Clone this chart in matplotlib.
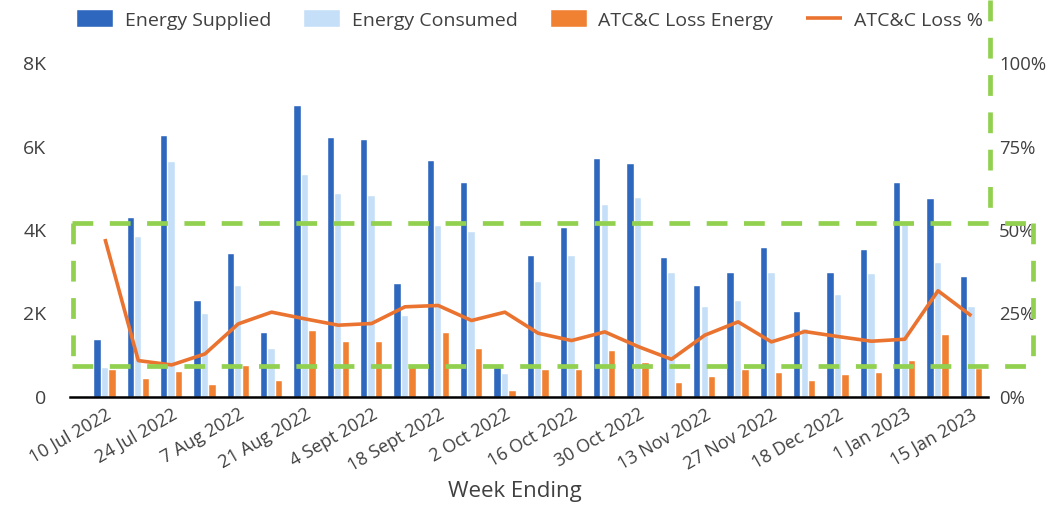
import numpy as np
import matplotlib
matplotlib.use('Agg')
import matplotlib.pyplot as plt
from matplotlib.lines import Line2D
from matplotlib.ticker import FuncFormatter

plt.rcParams['font.family'] = ['Open Sans', 'DejaVu Sans']

weeks = ['10 Jul 2022', '17 Jul 2022', '24 Jul 2022', '31 Jul 2022', '7 Aug 2022',
         '14 Aug 2022', '21 Aug 2022', '28 Aug 2022', '4 Sept 2022', '11 Sept 2022',
         '18 Sept 2022', '25 Sept 2022', '2 Oct 2022', '9 Oct 2022', '16 Oct 2022',
         '23 Oct 2022', '30 Oct 2022', '6 Nov 2022', '13 Nov 2022', '20 Nov 2022',
         '27 Nov 2022', '4 Dec 2022', '18 Dec 2022', '25 Dec 2022', '1 Jan 2023',
         '8 Jan 2023', '15 Jan 2023']

energy_supplied = [1365, 4287, 6251, 2307, 3425, 1541, 6969, 6203, 6155, 2706,
                   5660, 5118, 727, 3377, 4048, 5708, 5580, 3329, 2658, 2978,
                   3560, 2036, 2978, 3513, 5125, 4734, 2882]
energy_consumed = [687, 3832, 5628, 1988, 2658, 1142, 5309, 4862, 4814, 1940,
                   4096, 3960, 551, 2754, 3377, 4591, 4774, 2978, 2163, 2307,
                   2978, 1636, 2443, 2938, 4175, 3201, 2163]
loss_energy = [647, 423, 599, 287, 742, 375, 1589, 1317, 1317, 727,
               1541, 1142, 152, 647, 647, 1094, 822, 327, 471, 647,
               567, 375, 519, 567, 870, 1493, 679]
loss_pct = [47.3, 10.9, 9.6, 12.9, 21.9, 25.4, 23.4, 21.5, 22.0, 27.0,
            27.4, 22.9, 25.4, 19.1, 16.9, 19.5, 15.1, 11.3, 18.5, 22.5,
            16.5, 19.6, 18.1, 16.7, 17.3, 31.8, 24.3]

c_sup = '#2E67BE'
c_con = '#C5DFF8'
c_loss = '#F08133'
c_line = '#EB7330'
c_green = '#92D050'
c_text = '#404040'

W, H = 1048, 508
fig = plt.figure(figsize=(W / 100, H / 100), dpi=100)
ax = fig.add_axes([70 / W, 1 - 397 / H, 918 / W, 334 / H])

x = np.arange(len(weeks))
bw = 0.19
off = 0.225
ax.bar(x - off, energy_supplied, bw, color=c_sup, edgecolor='white', linewidth=0.3, label='Energy Supplied')
ax.bar(x, energy_consumed, bw, color=c_con, edgecolor='white', linewidth=0.3, label='Energy Consumed')
ax.bar(x + off, loss_energy, bw, color=c_loss, edgecolor='white', linewidth=0.3, label='ATC&C Loss Energy')

ax.set_xlim(-1.05, 26.5)
ax.set_ylim(0, 8000)
ax.set_yticks([0, 2000, 4000, 6000, 8000])
ax.yaxis.set_major_formatter(FuncFormatter(lambda v, p: '0' if v == 0 else f'{int(v / 1000)}K'))
ax.set_xticks(x[::2])
ax.set_xticklabels(weeks[::2], rotation=30, ha='right', rotation_mode='anchor')

ax2 = ax.twinx()
ax2.plot(x, loss_pct, color=c_line, lw=2.6, label='ATC&C Loss %', solid_capstyle='butt')
ax2.set_ylim(0, 100)
ax2.set_yticks([0, 25, 50, 75, 100])
ax2.yaxis.set_major_formatter(FuncFormatter(lambda v, p: f'{int(v)}%'))

for a in (ax, ax2):
    for s in ('top', 'left', 'right', 'bottom'):
        a.spines[s].set_visible(False)
    a.tick_params(length=0, labelsize=13, colors=c_text)
ax.tick_params(axis='y', pad=17, labelsize=14)
ax2.tick_params(axis='y', pad=8, labelsize=13.3)
ax.tick_params(axis='x', pad=6)
ax.axhline(0, color='black', lw=1.8, clip_on=False, zorder=5)

fig.text(515 / W, 1 - 492 / H, 'Week Ending', ha='center', va='center', fontsize=16, color=c_text)

h1, l1 = ax.get_legend_handles_labels()
h2, l2 = ax2.get_legend_handles_labels()
fig.legend(h1 + h2, l1 + l2, loc='center', bbox_to_anchor=(530 / W, 1 - 20 / H), ncol=4,
           frameon=False, fontsize=14, handlelength=1.85, handleheight=0.95,
           handletextpad=0.6, columnspacing=1.7, labelcolor=c_text)

# green dashed highlight shapes
def dash_line(xs, ys):
    fig.add_artist(Line2D([v / W for v in xs], [1 - v / H for v in ys],
                          transform=fig.transFigure, color=c_green, lw=3.4,
                          linestyle=(0, (4.4, 3.5)), solid_capstyle='butt'))

dash_line([72, 1034], [223, 223])
dash_line([72, 1034], [366, 366])
dash_line([73, 73], [223, 366])
dash_line([1033, 1033], [223, 366])
dash_line([990, 990], [0, 223])

fig.savefig('out.png', dpi=100)
